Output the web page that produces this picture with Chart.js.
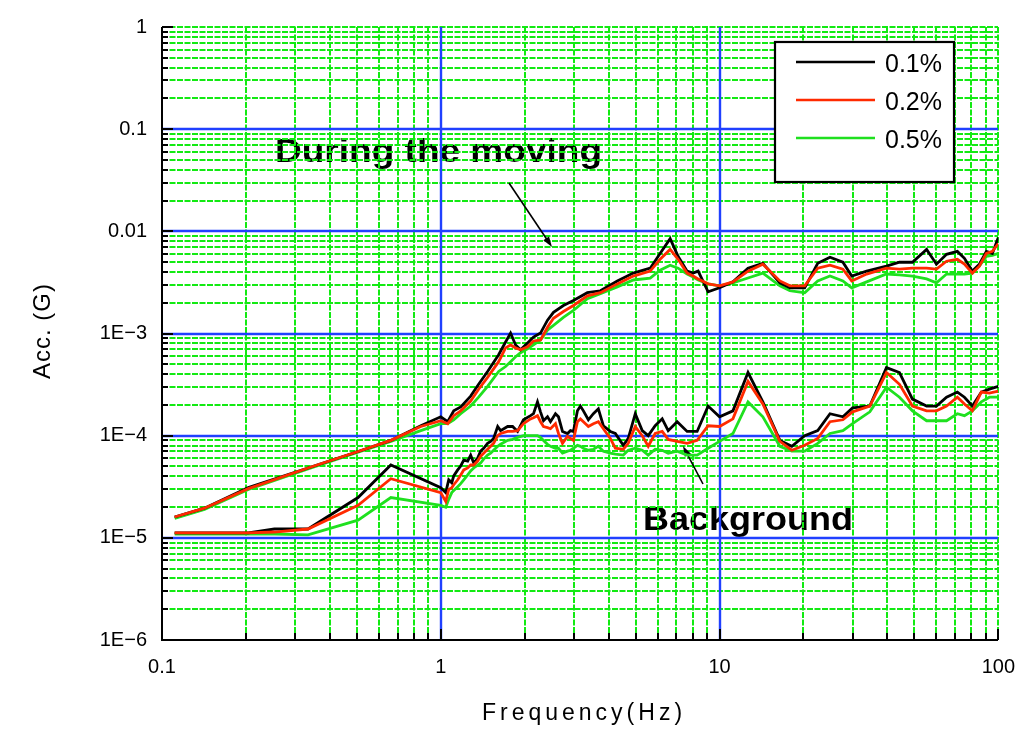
<!DOCTYPE html>
<html>
<head>
<meta charset="utf-8">
<script src="https://cdn.jsdelivr.net/npm/chart.js@4.4.0/dist/chart.umd.min.js"></script>
<style>
  html, body { margin: 0; padding: 0; background: #fff; }
  canvas { display: block; }
</style>
</head>
<body>
<canvas id="chart" width="1030" height="732"></canvas>
<script>
// Frequency grid (Hz) of the records taken while the unit was moving
const movingFreq = [0.111, 0.142, 0.204, 0.334, 0.505, 0.662, 0.848, 1.0, 1.059, 1.113, 1.179, 1.28, 1.367, 1.472, 1.613, 1.708, 1.78, 1.855, 1.933, 2.048, 2.151, 2.279, 2.415, 2.537, 2.754, 2.991, 3.357, 3.737, 4.298, 4.905, 5.64, 6.12, 6.65, 7.1, 7.65, 8.04, 8.38, 9.1, 10.0, 11.17, 12.65, 14.3, 16.46, 17.88, 20.2, 22.5, 24.9, 27.7, 29.8, 33.7, 39.7, 44.2, 49.2, 55.3, 60.0, 65.2, 71.3, 75.6, 80.7, 85.5, 90.6, 95.2, 100];

// Acceleration (G) during the moving, damping 0.1 %, 0.2 %, 0.5 %
const moving01 = [1.6e-5, 1.95e-5, 3.1e-5, 4.83e-5, 7.0e-5, 8.99e-5, 1.25e-4, 1.53e-4, 1.37e-4, 1.75e-4, 1.91e-4, 2.44e-4, 3.18e-4, 4.25e-4, 6.19e-4, 8.26e-4, 1.01e-3, 7.73e-4, 6.92e-4, 8.08e-4, 9.23e-4, 1.01e-3, 1.35e-3, 1.61e-3, 1.88e-3, 2.10e-3, 2.51e-3, 2.62e-3, 3.27e-3, 3.90e-3, 4.36e-3, 6.08e-3, 8.49e-3, 5.69e-3, 4.08e-3, 3.90e-3, 4.08e-3, 2.56e-3, 2.80e-3, 3.20e-3, 4.36e-3, 4.87e-3, 3.13e-3, 2.80e-3, 2.80e-3, 4.87e-3, 5.57e-3, 4.98e-3, 3.65e-3, 4.08e-3, 4.56e-3, 4.98e-3, 4.98e-3, 6.65e-3, 4.77e-3, 5.95e-3, 6.36e-3, 5.45e-3, 4.08e-3, 4.77e-3, 6.36e-3, 6.08e-3, 8.68e-3];
const moving02 = [1.6e-5, 1.95e-5, 3.03e-5, 4.83e-5, 7.0e-5, 8.99e-5, 1.23e-4, 1.40e-4, 1.31e-4, 1.57e-4, 1.75e-4, 2.18e-4, 2.85e-4, 3.72e-4, 5.30e-4, 7.23e-4, 7.73e-4, 7.23e-4, 6.92e-4, 7.40e-4, 8.45e-4, 8.64e-4, 1.15e-3, 1.41e-3, 1.64e-3, 1.88e-3, 2.34e-3, 2.51e-3, 3.06e-3, 3.65e-3, 4.08e-3, 5.33e-3, 6.65e-3, 5.33e-3, 3.90e-3, 3.65e-3, 3.42e-3, 3.06e-3, 2.93e-3, 3.20e-3, 4.08e-3, 4.77e-3, 3.27e-3, 2.93e-3, 2.93e-3, 4.36e-3, 4.66e-3, 4.27e-3, 3.27e-3, 3.82e-3, 4.36e-3, 4.27e-3, 4.36e-3, 4.36e-3, 4.27e-3, 5.10e-3, 5.33e-3, 4.77e-3, 3.90e-3, 4.56e-3, 6.08e-3, 6.36e-3, 7.60e-3];
const moving05 = [1.55e-5, 1.9e-5, 2.97e-5, 4.72e-5, 6.9e-5, 8.8e-5, 1.12e-4, 1.31e-4, 1.31e-4, 1.43e-4, 1.64e-4, 1.95e-4, 2.38e-4, 3.04e-4, 4.25e-4, 4.75e-4, 5.30e-4, 5.92e-4, 6.48e-4, 7.07e-4, 7.73e-4, 8.64e-4, 1.08e-3, 1.20e-3, 1.44e-3, 1.68e-3, 2.19e-3, 2.45e-3, 2.86e-3, 3.34e-3, 3.49e-3, 4.17e-3, 4.66e-3, 4.36e-3, 3.82e-3, 3.57e-3, 3.34e-3, 3.06e-3, 2.93e-3, 3.13e-3, 3.49e-3, 3.90e-3, 2.93e-3, 2.62e-3, 2.51e-3, 3.27e-3, 3.65e-3, 3.27e-3, 2.80e-3, 3.20e-3, 3.82e-3, 3.74e-3, 3.65e-3, 3.42e-3, 3.13e-3, 3.82e-3, 3.82e-3, 3.82e-3, 3.90e-3, 4.56e-3, 5.69e-3, 5.82e-3, 6.08e-3];

// Frequency grid (Hz) of the background records
const backgroundFreq = [0.111, 0.204, 0.253, 0.334, 0.505, 0.662, 1.0, 1.042, 1.068, 1.095, 1.113, 1.15, 1.179, 1.209, 1.249, 1.28, 1.313, 1.356, 1.39, 1.425, 1.472, 1.51, 1.547, 1.6, 1.639, 1.737, 1.81, 1.886, 1.98, 2.099, 2.151, 2.223, 2.279, 2.336, 2.415, 2.475, 2.579, 2.644, 2.733, 2.848, 2.919, 2.991, 3.092, 3.169, 3.248, 3.384, 3.527, 3.675, 3.83, 4.057, 4.228, 4.515, 4.705, 4.985, 5.28, 5.548, 5.877, 6.228, 6.543, 7.047, 7.65, 8.31, 9.1, 10.0, 11.17, 12.65, 14.3, 16.46, 18.17, 20.2, 22.5, 24.9, 27.7, 30.0, 34.6, 39.7, 44.2, 49.2, 55.3, 60.0, 65.2, 71.3, 75.6, 80.7, 86.9, 92.9, 100];

// Background acceleration (G), damping 0.1 %, 0.2 %, 0.5 %
const background01 = [1.12e-5, 1.12e-5, 1.22e-5, 1.22e-5, 2.48e-5, 5.16e-5, 3.10e-5, 2.77e-5, 3.70e-5, 3.46e-5, 4.04e-5, 4.62e-5, 5.05e-5, 5.77e-5, 5.64e-5, 6.45e-5, 5.40e-5, 6.03e-5, 7.05e-5, 7.53e-5, 8.41e-5, 8.79e-5, 9.40e-5, 1.23e-4, 1.12e-4, 1.23e-4, 1.23e-4, 1.10e-4, 1.43e-4, 1.57e-4, 1.64e-4, 2.14e-4, 1.71e-4, 1.40e-4, 1.53e-4, 1.37e-4, 1.64e-4, 1.53e-4, 1.10e-4, 1.05e-4, 1.12e-4, 1.10e-4, 1.75e-4, 1.95e-4, 1.75e-4, 1.43e-4, 1.64e-4, 1.83e-4, 1.25e-4, 1.10e-4, 1.05e-4, 8.04e-5, 9.40e-5, 1.64e-4, 1.12e-4, 1.00e-4, 1.25e-4, 1.46e-4, 1.12e-4, 1.37e-4, 1.10e-4, 1.10e-4, 1.95e-4, 1.53e-4, 1.75e-4, 4.15e-4, 2.14e-4, 8.99e-5, 7.87e-5, 1.00e-4, 1.12e-4, 1.64e-4, 1.53e-4, 1.87e-4, 1.95e-4, 4.64e-4, 4.15e-4, 2.28e-4, 1.95e-4, 1.95e-4, 2.38e-4, 2.67e-4, 2.38e-4, 1.95e-4, 2.67e-4, 2.85e-4, 3.04e-4];
const background02 = [1.12e-5, 1.12e-5, 1.14e-5, 1.22e-5, 2.08e-5, 3.79e-5, 2.77e-5, 2.27e-5, 2.97e-5, 3.10e-5, 3.31e-5, 3.70e-5, 4.13e-5, 4.62e-5, 4.83e-5, 5.16e-5, 5.16e-5, 5.64e-5, 6.30e-5, 6.74e-5, 7.36e-5, 7.87e-5, 8.41e-5, 1.00e-4, 1.05e-4, 1.10e-4, 1.10e-4, 1.12e-4, 1.31e-4, 1.46e-4, 1.50e-4, 1.57e-4, 1.37e-4, 1.23e-4, 1.20e-4, 1.17e-4, 1.31e-4, 1.05e-4, 8.41e-5, 9.82e-5, 9.40e-5, 8.99e-5, 1.37e-4, 1.46e-4, 1.37e-4, 1.23e-4, 1.31e-4, 1.37e-4, 1.17e-4, 9.40e-5, 7.53e-5, 7.36e-5, 8.41e-5, 1.23e-4, 1.00e-4, 7.87e-5, 1.05e-4, 1.10e-4, 9.19e-5, 8.79e-5, 8.41e-5, 8.99e-5, 1.25e-4, 1.23e-4, 1.46e-4, 3.40e-4, 2.04e-4, 8.79e-5, 7.20e-5, 8.04e-5, 9.40e-5, 1.37e-4, 1.43e-4, 1.71e-4, 1.95e-4, 4.15e-4, 3.18e-4, 1.95e-4, 1.75e-4, 1.75e-4, 1.95e-4, 2.38e-4, 2.04e-4, 1.75e-4, 2.67e-4, 2.61e-4, 2.73e-4];
const background05 = [1.09e-5, 1.09e-5, 1.09e-5, 1.07e-5, 1.49e-5, 2.48e-5, 2.08e-5, 1.99e-5, 2.38e-5, 2.77e-5, 2.90e-5, 3.17e-5, 3.39e-5, 3.70e-5, 4.13e-5, 4.52e-5, 4.83e-5, 5.16e-5, 5.40e-5, 5.90e-5, 6.45e-5, 6.74e-5, 7.20e-5, 7.87e-5, 8.23e-5, 8.99e-5, 9.19e-5, 9.61e-5, 1.00e-4, 1.00e-4, 1.00e-4, 1.00e-4, 9.61e-5, 8.99e-5, 8.23e-5, 7.87e-5, 7.53e-5, 7.53e-5, 6.74e-5, 7.05e-5, 7.20e-5, 7.53e-5, 8.04e-5, 7.87e-5, 7.53e-5, 7.20e-5, 7.36e-5, 7.87e-5, 7.05e-5, 6.74e-5, 6.59e-5, 6.45e-5, 7.20e-5, 7.53e-5, 7.20e-5, 6.45e-5, 7.36e-5, 7.20e-5, 6.74e-5, 7.05e-5, 6.45e-5, 6.45e-5, 7.53e-5, 8.79e-5, 1.05e-4, 2.14e-4, 1.53e-4, 7.87e-5, 7.05e-5, 7.05e-5, 8.41e-5, 1.05e-4, 1.12e-4, 1.31e-4, 1.71e-4, 2.98e-4, 2.38e-4, 1.75e-4, 1.40e-4, 1.40e-4, 1.40e-4, 1.64e-4, 1.57e-4, 1.75e-4, 2.14e-4, 2.38e-4, 2.38e-4];

// Axis ticks and their printed labels
const xTickValues = [0.1, 1, 10, 100];
const xTickLabels = ['0.1', '1', '10', '100'];
const yTickValues = [1, 0.1, 0.01, 1e-3, 1e-4, 1e-5, 1e-6];
const yTickLabels = ['1', '0.1', '0.01', '1E\u22123', '1E\u22124', '1E\u22125', '1E\u22126'];

const seriesLabels = ['0.1%', '0.2%', '0.5%'];
const seriesColors = ['#000000', '#ff2a00', '#1fe01f'];

const FONT = '"Liberation Sans", Arial, Helvetica, sans-serif';
const GRID_GREEN = '#12ea12';
const GRID_BLUE = '#2040ff';

function toPoints(freq, vals) {
  return freq.map((f, i) => ({ x: f, y: vals[i] }));
}

// red drawn on top, green underneath
const stackOrder = [1, 0, 2];
const datasets = [];
[[movingFreq, [moving01, moving02, moving05]],
 [backgroundFreq, [background01, background02, background05]]].forEach(([freq, group]) => {
  group.forEach((vals, k) => {
    datasets.push({
      label: seriesLabels[k],
      data: toPoints(freq, vals),
      borderColor: seriesColors[k],
      backgroundColor: seriesColors[k],
      borderWidth: 2.8,
      pointRadius: 0,
      tension: 0,
      fill: false,
      order: stackOrder[k]
    });
  });
});

function stretchText(ctx, text, left, baseline, width, font) {
  ctx.save();
  ctx.font = font;
  const w = ctx.measureText(text).width;
  ctx.translate(left, baseline);
  ctx.scale(width / w, 1);
  ctx.textAlign = 'left';
  ctx.textBaseline = 'alphabetic';
  ctx.fillText(text, 0, 0);
  ctx.restore();
}

function arrow(ctx, x1, y1, x2, y2) {
  const ang = Math.atan2(y2 - y1, x2 - x1);
  const head = 11, spread = 0.32;
  ctx.save();
  ctx.strokeStyle = '#000';
  ctx.fillStyle = '#000';
  ctx.lineWidth = 1.6;
  ctx.setLineDash([]);
  ctx.beginPath();
  ctx.moveTo(x1, y1);
  ctx.lineTo(x2 - Math.cos(ang) * head * 0.8, y2 - Math.sin(ang) * head * 0.8);
  ctx.stroke();
  ctx.beginPath();
  ctx.moveTo(x2, y2);
  ctx.lineTo(x2 - head * Math.cos(ang - spread), y2 - head * Math.sin(ang - spread));
  ctx.lineTo(x2 - head * Math.cos(ang + spread), y2 - head * Math.sin(ang + spread));
  ctx.closePath();
  ctx.fill();
  ctx.restore();
}

// values 1..9 x 10^e across the decades of an axis
function logSteps(minExp, maxExp) {
  const out = [];
  for (let e = minExp; e < maxExp; e++) {
    for (let k = 1; k <= 9; k++) out.push({ v: k * Math.pow(10, e), decade: k === 1 });
  }
  out.push({ v: Math.pow(10, maxExp), decade: true });
  return out;
}

const framePlugin = {
  id: 'frame',
  beforeDatasetsDraw(chart) {
    const { ctx, chartArea: a, scales: { x, y } } = chart;
    ctx.save();

    // captions sit beneath the grid
    ctx.fillStyle = '#000';
    stretchText(ctx, 'During the moving', 275, 162, 327, 'bold 33px ' + FONT);
    stretchText(ctx, 'Background', 643, 530, 210, 'bold 33px ' + FONT);

    const xs = logSteps(-1, 2);
    const ys = logSteps(-6, 0);
    const xPix = v => Math.round(x.getPixelForValue(v));
    const yPix = v => Math.round(y.getPixelForValue(v));
    const left = Math.round(a.left), right = Math.round(a.right);
    const top = Math.round(a.top), bottom = Math.round(a.bottom);

    // dashed green minor grid (and outer decades)
    ctx.strokeStyle = GRID_GREEN;
    ctx.lineWidth = 2;
    ctx.setLineDash([6, 1.5]);
    ctx.beginPath();
    xs.forEach(s => {
      const p = xPix(s.v);
      const interior = p > left + 1 && p < right - 1;
      if (p <= left + 1) return;
      if (s.decade && interior) return;
      ctx.moveTo(p, top); ctx.lineTo(p, bottom);
    });
    ys.forEach(s => {
      const p = yPix(s.v);
      if (p >= bottom - 1) return;
      const interior = p > top + 1;
      if (s.decade && interior) return;
      ctx.moveTo(left, p); ctx.lineTo(right, p);
    });
    ctx.stroke();

    // solid blue decade lines
    ctx.setLineDash([]);
    ctx.strokeStyle = GRID_BLUE;
    ctx.lineWidth = 2.4;
    ctx.beginPath();
    xs.forEach(s => {
      const p = xPix(s.v);
      if (s.decade && p > left + 1 && p < right - 1) { ctx.moveTo(p, top); ctx.lineTo(p, bottom); }
    });
    ys.forEach(s => {
      const p = yPix(s.v);
      if (s.decade && p > top + 1 && p < bottom - 1) { ctx.moveTo(left, p); ctx.lineTo(right, p); }
    });
    ctx.stroke();

    // axes with inward ticks
    ctx.strokeStyle = '#000';
    ctx.lineWidth = 2;
    ctx.beginPath();
    ctx.moveTo(left, top); ctx.lineTo(left, bottom); ctx.lineTo(right, bottom);
    ys.forEach(s => {
      const p = yPix(s.v);
      ctx.moveTo(left, p); ctx.lineTo(left + (s.decade ? 11 : 6), p);
    });
    xs.forEach(s => {
      const p = xPix(s.v);
      ctx.moveTo(p, bottom); ctx.lineTo(p, bottom - (s.decade ? 11 : 7));
    });
    ctx.stroke();

    // pointers from the captions to the curves
    arrow(ctx, 509, 183, 552, 247);
    arrow(ctx, 703, 484, 683, 446);

    ctx.restore();
  },
  afterDatasetsDraw(chart) {
    const ctx = chart.ctx;
    ctx.save();
    // legend box
    const bx = 775, by = 42, bw = 179, bh = 140;
    ctx.fillStyle = '#fff';
    ctx.fillRect(bx, by, bw, bh);
    ctx.strokeStyle = '#000';
    ctx.lineWidth = 2.2;
    ctx.strokeRect(bx, by, bw, bh);
    ctx.font = '25px ' + FONT;
    ctx.textBaseline = 'middle';
    ctx.textAlign = 'left';
    seriesLabels.forEach((lab, i) => {
      const ly = 62 + i * 38;
      ctx.strokeStyle = seriesColors[i];
      ctx.lineWidth = 2.5;
      ctx.beginPath();
      ctx.moveTo(796, ly); ctx.lineTo(875, ly);
      ctx.stroke();
      ctx.fillStyle = '#000';
      ctx.fillText(lab, 885, ly + 3);
    });

    // axis titles
    ctx.fillStyle = '#000';
    ctx.textAlign = 'center';
    ctx.textBaseline = 'middle';
    ctx.font = '23px ' + FONT;
    ctx.letterSpacing = '4px';
    ctx.fillText('Frequency(Hz)', 584, 714);
    ctx.letterSpacing = '1px';
    ctx.translate(43, 331);
    ctx.rotate(-Math.PI / 2);
    ctx.font = '24px ' + FONT;
    ctx.fillText('Acc. (G)', 0, 0);
    ctx.restore();
  }
};

new Chart(document.getElementById('chart'), {
  type: 'line',
  data: { datasets },
  options: {
    responsive: false,
    animation: false,
    devicePixelRatio: 1,
    layout: { padding: { left: 0, right: 30, top: 17, bottom: 0 } },
    plugins: { legend: { display: false }, tooltip: { enabled: false } },
    scales: {
      x: {
        type: 'logarithmic',
        position: 'bottom',
        min: 0.1,
        max: 100,
        afterBuildTicks: s => { s.ticks = xTickValues.map(v => ({ value: v })); },
        afterFit: s => { s.height = 92; },
        ticks: {
          callback: (v, i) => xTickLabels[i],
          font: { family: FONT, size: 20 },
          color: '#000',
          padding: 15,
          maxRotation: 0,
          autoSkip: false
        },
        grid: { display: false, drawTicks: false },
        border: { display: false }
      },
      y: {
        type: 'logarithmic',
        position: 'left',
        min: 1e-6,
        max: 1,
        afterBuildTicks: s => { s.ticks = yTickValues.map(v => ({ value: v })); },
        afterFit: s => { s.width = 162; },
        ticks: {
          callback: (v, i) => yTickLabels[i],
          font: { family: FONT, size: 20 },
          color: '#000',
          padding: 15,
          autoSkip: false
        },
        grid: { display: false, drawTicks: false },
        border: { display: false }
      }
    }
  },
  plugins: [framePlugin]
});
</script>
</body>
</html>
